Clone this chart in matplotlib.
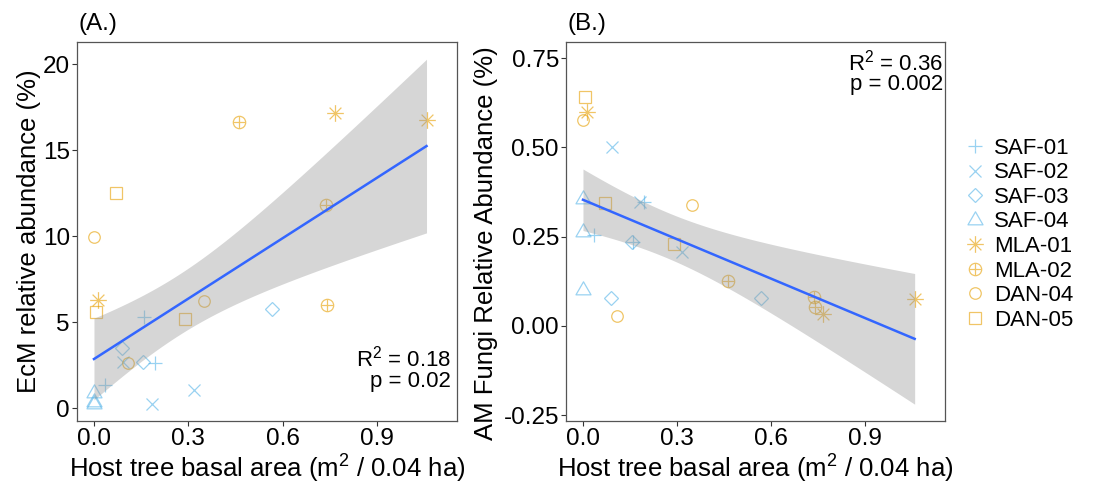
import numpy as np
import matplotlib
matplotlib.use("Agg")
import matplotlib.pyplot as plt
from matplotlib.path import Path
from matplotlib.lines import Line2D

plt.rcParams["font.family"] = ["Liberation Sans", "DejaVu Sans"]
plt.rcParams["mathtext.fontset"] = "custom"
plt.rcParams["mathtext.rm"] = "Liberation Sans"
plt.rcParams["mathtext.it"] = "Liberation Sans:italic"

# ── data ───────────────────────────────────────────────────────
sites = ["SAF-01", "SAF-02", "SAF-03", "SAF-04",
         "MLA-01", "MLA-02", "DAN-04", "DAN-05"]
basal_area = [[0.036, 0.159, 0.195],
              [0.093, 0.183, 0.317],
              [0.089, 0.155, 0.567],
              [0.0, 0.0, 0.0],
              [0.012, 0.767, 1.058],
              [0.462, 0.737, 0.740],
              [0.0, 0.109, 0.349],
              [0.008, 0.070, 0.289]]
ecm_abund = [[1.35, 5.33, 2.62],
             [2.67, 0.25, 1.06],
             [3.49, 2.67, 5.79],
             [0.87, 0.38, 0.25],
             [6.30, 17.15, 16.76],
             [16.67, 11.82, 5.99],
             [9.98, 2.65, 6.24],
             [5.62, 12.50, 5.19]]
am_abund = [[0.255, 0.236, 0.346],
            [0.500, 0.346, 0.206],
            [0.079, 0.236, 0.079],
            [0.355, 0.262, 0.101],
            [0.600, 0.033, 0.075],
            [0.125, 0.082, 0.052],
            [0.577, 0.028, 0.339],
            [0.642, 0.343, 0.229]]
stats_a = ["R$^2$ = 0.18", "p = 0.02"]
stats_b = ["R$^2$ = 0.36", "p = 0.002"]

# ── marker shapes (R pch look-alikes) ──────────────────────────
M, L = Path.MOVETO, Path.LINETO
k = 0.707
asterisk = Path([(-1, 0), (1, 0), (0, -1), (0, 1),
                 (-k, -k), (k, k), (-k, k), (k, -k)], [M, L] * 4)
circ = Path.unit_circle()
cross_in = Path([(-1, 0), (1, 0), (0, -1), (0, 1)], [M, L, M, L])
circle_plus = Path.make_compound_path(circ, cross_in)
tri = Path([(-1, -0.577), (1, -0.577), (0, 1.155), (-1, -0.577)],
           [M, L, L, Path.CLOSEPOLY])

BLUE = "#56B4E9"
ORANGE = "#E69F00"
styles = {
    "SAF-01": dict(marker="+", ms=10, color=BLUE),
    "SAF-02": dict(marker="x", ms=8.6, color=BLUE),
    "SAF-03": dict(marker="D", ms=7.4, color=BLUE),
    "SAF-04": dict(marker=tri, ms=12.5, color=BLUE),
    "MLA-01": dict(marker=asterisk, ms=12, color=ORANGE),
    "MLA-02": dict(marker=circle_plus, ms=8.9, color=ORANGE),
    "DAN-04": dict(marker="o", ms=8.3, color=ORANGE),
    "DAN-05": dict(marker="s", ms=8.2, color=ORANGE),
}


def fit_band(x, y, num=80, t=2.0739):
    x = np.asarray(x, float)
    y = np.asarray(y, float)
    n = len(x)
    b1, b0 = np.polyfit(x, y, 1)
    xs = np.linspace(x.min(), x.max(), num)
    yhat = b0 + b1 * xs
    s = np.sqrt(np.sum((y - (b0 + b1 * x)) ** 2) / (n - 2))
    se = s * np.sqrt(1 / n + (xs - x.mean()) ** 2 / np.sum((x - x.mean()) ** 2))
    return xs, yhat, yhat - t * se, yhat + t * se


def panel(ax, yvals, ylim, yticks, yfmt, ylabel, tag, stats, stats_pos):
    for site, xs, ys in zip(sites, basal_area, yvals):
        st = styles[site]
        ax.plot(xs, ys, linestyle="none", marker=st["marker"], ms=st["ms"],
                mec=st["color"], mfc="none", mew=0.9, alpha=0.6, zorder=2)
    allx = np.concatenate(basal_area)
    ally = np.concatenate(yvals)
    xs, yhat, lo, hi = fit_band(allx, ally)
    ax.fill_between(xs, lo, hi, color="#999999", alpha=0.4, lw=0, zorder=3)
    ax.plot(xs, yhat, color="#3366FF", lw=1.8, zorder=4)

    ax.set_xlim(-0.054, 1.155)
    ax.set_ylim(*ylim)
    ax.set_xticks([0.0, 0.3, 0.6, 0.9])
    ax.set_xticklabels(["0.0", "0.3", "0.6", "0.9"])
    ax.set_yticks(yticks)
    ax.set_yticklabels([yfmt.format(v) for v in yticks])
    ax.tick_params(labelsize=17.5, length=3.6, width=0.8, color="#333333",
                   labelcolor="black", pad=1.5)
    for sp in ax.spines.values():
        sp.set_edgecolor("#555555")
        sp.set_linewidth(0.9)
    ax.set_xlabel("Host tree basal area (m$^2$ / 0.04 ha)", fontsize=18.5)
    ax.xaxis.set_label_coords(0.5, -0.085)
    ax.set_ylabel(ylabel, fontsize=18.5)
    ax.text(0.003, 1.047, tag, transform=ax.transAxes, fontsize=17.5,
            ha="left", va="center")
    x0, y0, dy = stats_pos
    ax.text(x0, y0, stats[0], transform=ax.transAxes, fontsize=16,
            ha="right", va="center")
    ax.text(x0, y0 - dy, stats[1], transform=ax.transAxes, fontsize=16,
            ha="right", va="center")


fig = plt.figure(figsize=(10.97, 4.90), dpi=100)
ax1 = fig.add_axes([0.0702, 0.1408, 0.3464, 0.7735])
ax2 = fig.add_axes([0.5160, 0.1408, 0.3455, 0.7735])

panel(ax1, ecm_abund, (-0.74, 21.3), [0, 5, 10, 15, 20], "{:g}",
      "EcM relative abundance (%)", "(A.)", stats_a, (0.985, 0.166, 0.062))
ax1.yaxis.set_label_coords(-0.095, 0.5)

panel(ax2, am_abund, (-0.266, 0.795), [-0.25, 0.0, 0.25, 0.5, 0.75], "{:.2f}",
      "AM Fungi Relative Abundance (%)", "(B.)", stats_b, (0.995, 0.945, 0.058))
ax2.yaxis.set_label_coords(-0.179, 0.47)

handles = []
for site in sites:
    st = styles[site]
    handles.append(Line2D([], [], linestyle="none", marker=st["marker"],
                          ms=st["ms"], mec=st["color"], mfc="none", mew=0.9,
                          alpha=0.6))
fig.legend(handles, sites, loc="center left", bbox_to_anchor=(0.871, 0.522),
           frameon=False, fontsize=16, handlelength=0.8, handletextpad=0.45,
           labelspacing=0.16, borderpad=0)

fig.savefig("out.png", dpi=100)
